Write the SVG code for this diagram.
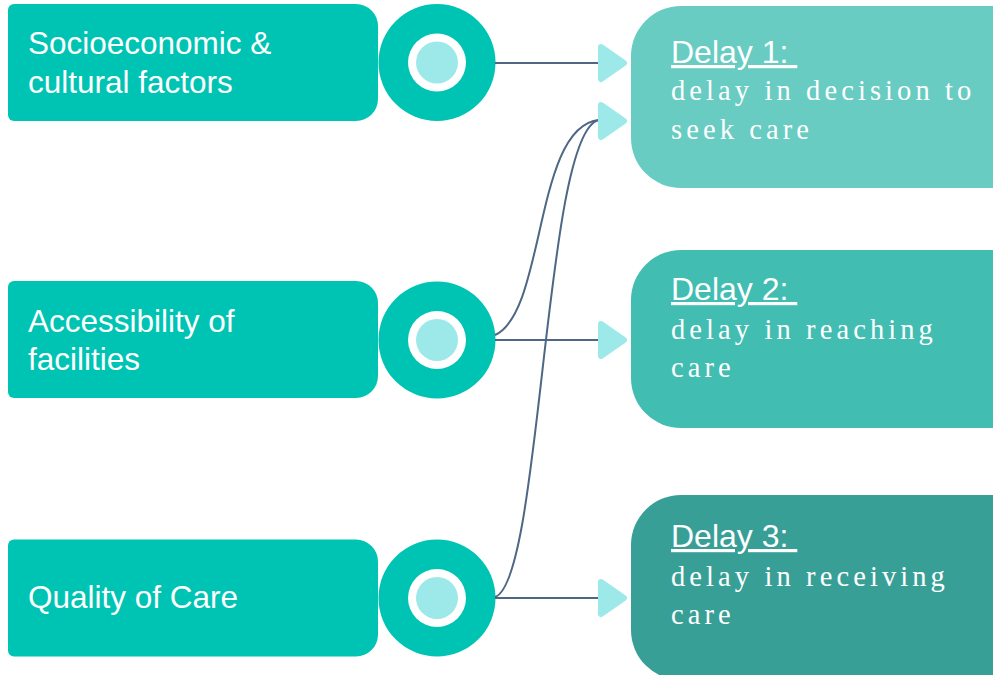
<svg xmlns="http://www.w3.org/2000/svg" width="993" height="675" viewBox="0 0 993 675">
  <style>
    .factor { fill: #00C4B3; }
    .ring { fill: #00C4B3; }
    .ring-gap { fill: #FFFFFF; }
    .ring-core { fill: #9DE9E9; }
    .factor-text { font-family: "Liberation Sans", Arial, sans-serif; font-size: 31.5px; fill: #FFFFFF; }
    .delay-title { font-family: "Liberation Sans", Arial, sans-serif; font-size: 32px; fill: #FFFFFF; text-decoration: underline; white-space: pre; }
    .delay-text { font-family: "Liberation Serif", "Times New Roman", serif; font-size: 28.5px; fill: #FFFFFF; letter-spacing: 4.1px; }
    .link { fill: none; stroke: #4D6784; stroke-width: 2; }
    .head { fill: #9DE9E9; stroke: #9DE9E9; stroke-width: 6; stroke-linejoin: round; }
  </style>
  <defs>
    <!-- factor box: small radius on the left, larger radius on the right -->
    <path id="factor-box" d="M6,0 H348 A22,22 0 0 1 370,22 V95 A22,22 0 0 1 348,117 H6 A6,6 0 0 1 0,111 V6 A6,6 0 0 1 6,0 Z"/>
    <g id="ring">
      <circle r="58.5" class="ring"/>
      <circle r="29" class="ring-gap"/>
      <circle r="21" class="ring-core"/>
    </g>
    <polygon id="head" points="0,-16 23,0 0,16" class="head"/>
  </defs>

  <rect width="993" height="675" fill="#FFFFFF"/>

  <!-- factor boxes -->
  <g id="factor-socioeconomic">
    <use href="#factor-box" x="8" y="4" class="factor"/>
    <use href="#ring" x="437" y="62.5"/>
    <text class="factor-text" x="28" y="54">Socioeconomic &amp;</text>
    <text class="factor-text" x="28" y="92.5">cultural factors</text>
  </g>
  <g id="factor-accessibility">
    <use href="#factor-box" x="8" y="281" class="factor"/>
    <use href="#ring" x="437" y="340"/>
    <text class="factor-text" x="28" y="332">Accessibility of</text>
    <text class="factor-text" x="28" y="370">facilities</text>
  </g>
  <g id="factor-quality">
    <use href="#factor-box" x="8" y="539.5" class="factor"/>
    <use href="#ring" x="437" y="598"/>
    <text class="factor-text" x="28" y="608">Quality of Care</text>
  </g>

  <!-- delay boxes -->
  <g id="delay-1">
    <path d="M681,6 H1000 V188 H681 A50,50 0 0 1 631,138 V56 A50,50 0 0 1 681,6 Z" fill="#68CCC2"/>
    <text class="delay-title" x="671" y="63" xml:space="preserve">Delay 1: </text>
    <text class="delay-text" x="671" y="100">delay in decision to</text>
    <text class="delay-text" x="671" y="138.5">seek care</text>
  </g>
  <g id="delay-2">
    <path d="M681,250 H1000 V428 H681 A50,50 0 0 1 631,378 V300 A50,50 0 0 1 681,250 Z" fill="#42BDB2"/>
    <text class="delay-title" x="671" y="300" xml:space="preserve">Delay 2: </text>
    <text class="delay-text" x="671" y="339">delay in reaching</text>
    <text class="delay-text" x="671" y="377">care</text>
  </g>
  <g id="delay-3">
    <path d="M681,495 H1000 V680 H681 A50,50 0 0 1 631,630 V545 A50,50 0 0 1 681,495 Z" fill="#389F97"/>
    <text class="delay-title" x="671" y="547" xml:space="preserve">Delay 3: </text>
    <text class="delay-text" x="671" y="585.5">delay in receiving</text>
    <text class="delay-text" x="671" y="623.5">care</text>
  </g>

  <!-- connectors -->
  <g id="connectors">
    <path class="link" d="M495,63 H600"/>
    <path class="link" d="M495,340 H600"/>
    <path class="link" d="M495,598 H600"/>
    <path class="link" d="M495,335 C546,312 534,126 599,120"/>
    <path class="link" d="M495,597 C542,582 544,130 599,120"/>
    <use href="#head" x="601" y="63"/>
    <use href="#head" x="601" y="121"/>
    <use href="#head" x="601" y="340"/>
    <use href="#head" x="601" y="598"/>
  </g>
</svg>
